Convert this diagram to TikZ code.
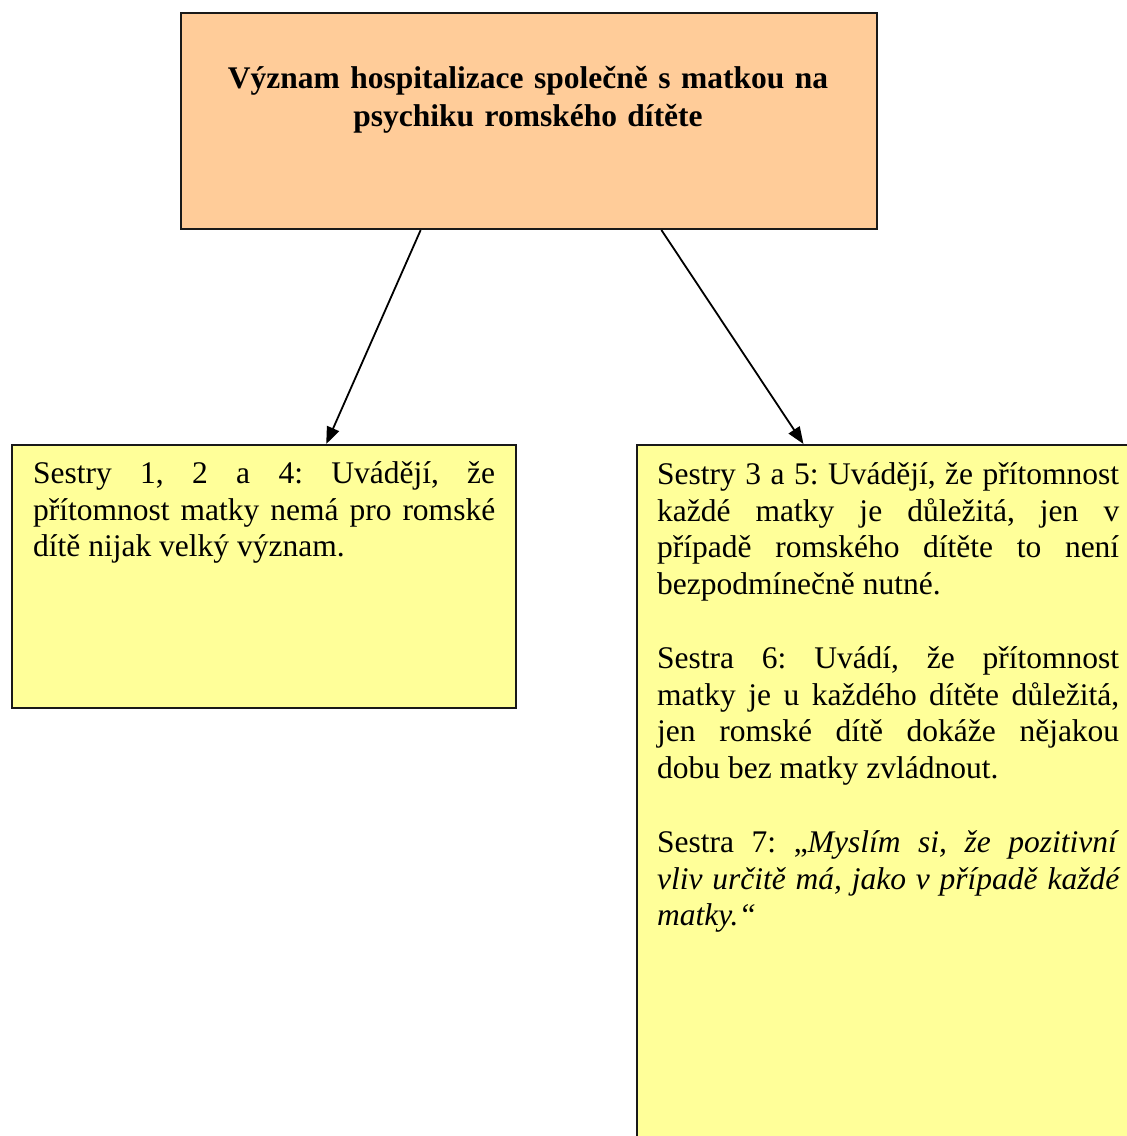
\documentclass[tikz,border=0pt]{standalone}
\usepackage{fontspec}
\setmainfont{Liberation Serif}
\usetikzlibrary{arrows.meta,calc}
\definecolor{peach}{HTML}{FFCC99}
\definecolor{paleyellow}{HTML}{FFFF99}
\hbadness=10000
\hfuzz=20pt
\frenchspacing
\newlength{\colw}
\setlength{\colw}{462pt}
% a justified line (font spaces stretched to the column width) and a flush-left closing line
\newcommand{\fullline}[1]{\hbox to \colw{\spaceskip=0pt\xspaceskip=0pt\strut #1}}
\newcommand{\lastline}[1]{\hbox{\spaceskip=0pt\xspaceskip=0pt\strut #1}}
\newcommand{\blankline}{\vskip\baselineskip}
\begin{document}
\begin{tikzpicture}[x=1pt,y=-1pt,
  box/.style={draw=black!90,line width=2pt,rectangle,inner sep=0pt,anchor=north west},
  bodytext/.style={inner sep=0pt,anchor=north west,text width=\colw,
    font=\fontsize{31.5}{36.8}\selectfont\frenchspacing},
  conn/.style={draw=black,line width=1.8pt,-{Triangle[length=17pt,width=13pt]}}]
\useasboundingbox (0,0) rectangle (1127,1136);

% boxes
\node[box,fill=peach,minimum width=696pt,minimum height=216pt] (top) at (180,12) {};
\node[box,fill=paleyellow,minimum width=504pt,minimum height=263pt] (left) at (11,444) {};
\node[box,fill=paleyellow,minimum width=504pt,minimum height=760pt] (right) at (636,444) {};

% heading
\node[inner sep=0pt,anchor=north,text width=696pt,align=center,
  font=\fontsize{31.5}{37.5}\selectfont\bfseries] (title) at (528,62.2)
  {\strut Význam hospitalizace společně s matkou na\\psychiku romského dítěte};

% left statement
\node[bodytext] (lefttext) at (33,457.3) {%
\fullline{Sestry 1, 2 a 4: Uvádějí, že}
\fullline{přítomnost matky nemá pro romské}
\lastline{dítě nijak velký význam.}};

% right statements
\node[bodytext] (righttext) at (657,458.3) {%
\fullline{Sestry 3 a 5: Uvádějí, že přítomnost}
\fullline{každé matky je důležitá, jen v}
\fullline{případě romského dítěte to není}
\lastline{bezpodmínečně nutné.}
\blankline
\fullline{Sestra 6: Uvádí, že přítomnost}
\fullline{matky je u každého dítěte důležitá,}
\fullline{jen romské dítě dokáže nějakou}
\lastline{dobu bez matky zvládnout.}
\blankline
\fullline{Sestra 7: „\textit{Myslím si, že pozitivní}}
\fullline{\itshape vliv určitě má, jako v případě každé}
\lastline{\itshape matky.“}};

% connectors
\coordinate (s1) at ($(top.south west)!0.3448!(top.south east)$);
\coordinate (s2) at ($(top.south west)!0.6897!(top.south east)$);
\coordinate (e1) at ($(left.north west)!0.623!(left.north east)$);
\coordinate (e2) at ($(right.north west)!0.331!(right.north east)$);
\draw[conn] (s1) -- (e1);
\draw[conn] (s2) -- (e2);
\end{tikzpicture}
\end{document}
